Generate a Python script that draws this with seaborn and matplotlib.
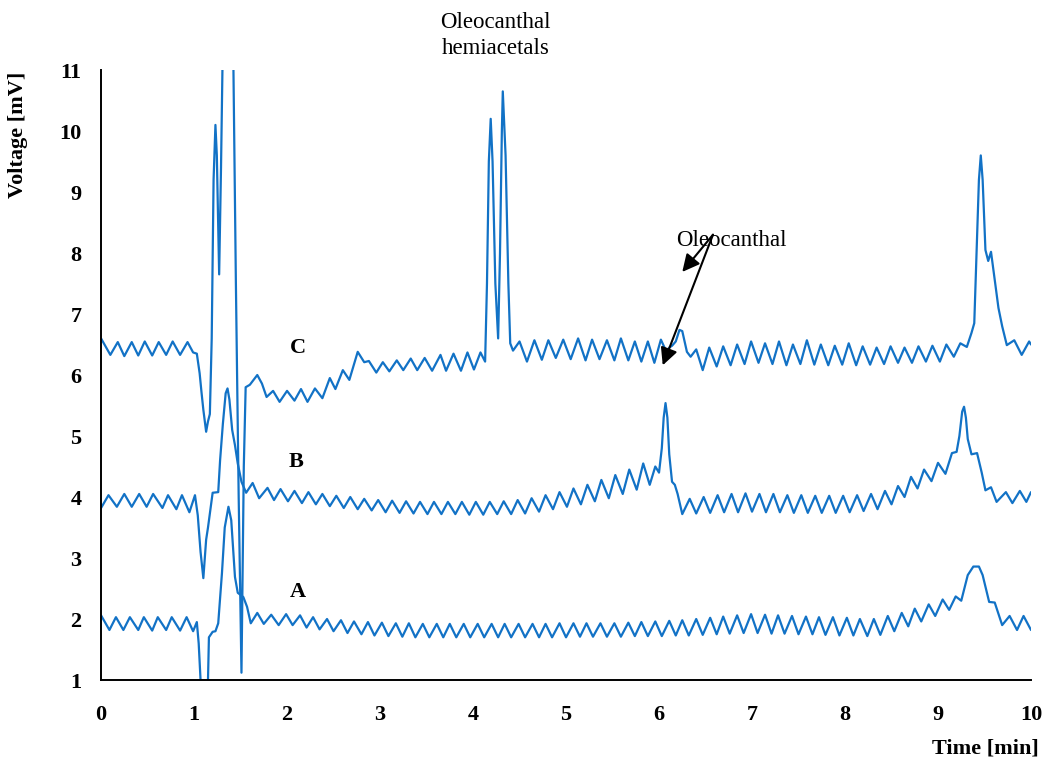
import matplotlib
matplotlib.use('Agg')
import matplotlib.pyplot as plt
import seaborn as sns
import pandas as pd

# chromatogram traces: (time [min], voltage [mV])
trace_a = [
    (0.00, 2.06), (0.09, 1.82), (0.16, 2.03), (0.24, 1.82), (0.31, 2.03), (0.40, 1.82),
    (0.46, 2.03), (0.55, 1.81), (0.61, 2.03), (0.70, 1.82), (0.76, 2.03), (0.85, 1.81),
    (0.92, 2.03), (0.99, 1.80), (1.03, 1.95), (1.05, 1.60), (1.07, 1.00), (1.10, 0.50),
    (1.13, 0.50), (1.15, 1.00), (1.16, 1.70), (1.20, 1.79), (1.23, 1.80), (1.26, 1.93),
    (1.30, 2.75), (1.33, 3.50), (1.37, 3.84), (1.40, 3.62), (1.44, 2.69), (1.47, 2.43),
    (1.53, 2.36), (1.57, 2.20), (1.61, 1.93), (1.68, 2.10), (1.75, 1.92), (1.83, 2.07),
    (1.91, 1.90), (1.99, 2.08), (2.06, 1.90), (2.14, 2.06), (2.21, 1.86), (2.28, 2.03),
    (2.35, 1.83), (2.43, 2.00), (2.50, 1.80), (2.58, 1.98), (2.65, 1.77), (2.72, 1.96),
    (2.80, 1.75), (2.87, 1.95), (2.94, 1.73), (3.02, 1.94), (3.09, 1.72), (3.17, 1.93),
    (3.24, 1.71), (3.31, 1.93), (3.38, 1.70), (3.46, 1.92), (3.53, 1.70), (3.61, 1.92),
    (3.68, 1.70), (3.75, 1.92), (3.82, 1.70), (3.90, 1.92), (3.97, 1.70), (4.05, 1.92),
    (4.12, 1.70), (4.20, 1.92), (4.27, 1.70), (4.34, 1.92), (4.41, 1.70), (4.49, 1.92),
    (4.56, 1.70), (4.64, 1.92), (4.71, 1.70), (4.78, 1.92), (4.85, 1.70), (4.93, 1.93),
    (5.00, 1.70), (5.08, 1.93), (5.15, 1.71), (5.22, 1.93), (5.29, 1.71), (5.37, 1.93),
    (5.44, 1.71), (5.52, 1.93), (5.59, 1.71), (5.67, 1.94), (5.74, 1.72), (5.81, 1.95),
    (5.88, 1.72), (5.96, 1.96), (6.03, 1.72), (6.11, 1.97), (6.18, 1.73), (6.25, 1.98),
    (6.32, 1.73), (6.40, 2.00), (6.47, 1.74), (6.55, 2.02), (6.62, 1.75), (6.69, 2.04),
    (6.76, 1.76), (6.84, 2.06), (6.91, 1.77), (6.99, 2.08), (7.06, 1.77), (7.14, 2.07),
    (7.21, 1.76), (7.28, 2.06), (7.35, 1.76), (7.43, 2.05), (7.50, 1.75), (7.58, 2.04),
    (7.65, 1.75), (7.72, 2.03), (7.79, 1.74), (7.87, 2.03), (7.94, 1.73), (8.02, 2.02),
    (8.09, 1.73), (8.16, 2.00), (8.24, 1.72), (8.31, 2.00), (8.38, 1.74), (8.46, 2.05),
    (8.53, 1.80), (8.61, 2.10), (8.68, 1.88), (8.75, 2.17), (8.82, 1.96), (8.90, 2.24),
    (8.97, 2.05), (9.05, 2.32), (9.12, 2.15), (9.19, 2.37), (9.25, 2.30), (9.32, 2.72),
    (9.38, 2.86), (9.44, 2.86), (9.48, 2.72), (9.55, 2.28), (9.61, 2.27), (9.69, 1.90),
    (9.77, 2.05), (9.85, 1.82), (9.92, 2.05), (10.00, 1.82),
]

trace_b = [
    (0.00, 3.82), (0.08, 4.03), (0.17, 3.84), (0.25, 4.05), (0.33, 3.84), (0.41, 4.05),
    (0.49, 3.84), (0.56, 4.05), (0.66, 3.82), (0.72, 4.03), (0.81, 3.80), (0.87, 4.03),
    (0.95, 3.75), (1.01, 4.03), (1.04, 3.70), (1.07, 3.10), (1.10, 2.67), (1.13, 3.30),
    (1.15, 3.50), (1.20, 4.07), (1.26, 4.08), (1.28, 4.60), (1.31, 5.20), (1.34, 5.70),
    (1.36, 5.78), (1.38, 5.60), (1.41, 5.10), (1.44, 4.85), (1.47, 4.55), (1.51, 4.25),
    (1.56, 4.07), (1.63, 4.23), (1.70, 3.98), (1.79, 4.15), (1.86, 3.95), (1.93, 4.13),
    (2.01, 3.93), (2.08, 4.10), (2.16, 3.90), (2.23, 4.08), (2.31, 3.88), (2.38, 4.05),
    (2.46, 3.85), (2.53, 4.02), (2.61, 3.82), (2.68, 4.00), (2.76, 3.80), (2.83, 3.97),
    (2.91, 3.78), (2.98, 3.95), (3.06, 3.75), (3.13, 3.94), (3.21, 3.74), (3.28, 3.93),
    (3.36, 3.73), (3.43, 3.92), (3.51, 3.72), (3.58, 3.92), (3.66, 3.72), (3.73, 3.92),
    (3.81, 3.72), (3.88, 3.92), (3.96, 3.71), (4.03, 3.92), (4.11, 3.71), (4.18, 3.92),
    (4.26, 3.72), (4.33, 3.93), (4.41, 3.72), (4.48, 3.95), (4.56, 3.73), (4.63, 3.98),
    (4.71, 3.76), (4.78, 4.03), (4.86, 3.80), (4.93, 4.08), (5.01, 3.84), (5.08, 4.14),
    (5.16, 3.88), (5.23, 4.20), (5.31, 3.93), (5.38, 4.28), (5.46, 3.98), (5.53, 4.36),
    (5.61, 4.05), (5.68, 4.45), (5.76, 4.12), (5.83, 4.55), (5.90, 4.20), (5.96, 4.50),
    (6.00, 4.40), (6.03, 4.80), (6.05, 5.30), (6.07, 5.54), (6.09, 5.30), (6.11, 4.70),
    (6.14, 4.25), (6.17, 4.20), (6.20, 4.05), (6.25, 3.72), (6.33, 3.97), (6.40, 3.73),
    (6.48, 4.00), (6.55, 3.74), (6.63, 4.03), (6.70, 3.75), (6.78, 4.05), (6.85, 3.75),
    (6.93, 4.06), (7.00, 3.76), (7.08, 4.05), (7.15, 3.75), (7.23, 4.05), (7.30, 3.75),
    (7.38, 4.03), (7.45, 3.74), (7.53, 4.03), (7.60, 3.74), (7.68, 4.02), (7.75, 3.74),
    (7.83, 4.02), (7.90, 3.74), (7.98, 4.02), (8.05, 3.75), (8.13, 4.03), (8.20, 3.77),
    (8.28, 4.05), (8.35, 3.80), (8.43, 4.10), (8.50, 3.88), (8.57, 4.18), (8.64, 4.00),
    (8.71, 4.33), (8.78, 4.14), (8.85, 4.45), (8.93, 4.26), (9.00, 4.56), (9.08, 4.38),
    (9.15, 4.72), (9.20, 4.74), (9.23, 5.00), (9.26, 5.40), (9.28, 5.48), (9.30, 5.30),
    (9.32, 4.95), (9.36, 4.70), (9.42, 4.72), (9.47, 4.40), (9.51, 4.11), (9.57, 4.16),
    (9.63, 3.92), (9.73, 4.08), (9.80, 3.90), (9.88, 4.10), (9.95, 3.92), (10.00, 4.08),
]

trace_c = [
    (0.00, 6.60), (0.10, 6.33), (0.18, 6.54), (0.25, 6.31), (0.33, 6.54), (0.40, 6.32),
    (0.47, 6.55), (0.55, 6.32), (0.62, 6.54), (0.70, 6.33), (0.77, 6.55), (0.85, 6.33),
    (0.93, 6.54), (0.99, 6.37), (1.03, 6.35), (1.06, 6.03), (1.08, 5.72), (1.10, 5.43),
    (1.13, 5.07), (1.15, 5.24), (1.17, 5.36), (1.19, 6.60), (1.21, 9.20), (1.23, 10.10),
    (1.245, 9.60), (1.27, 7.65), (1.29, 9.40), (1.31, 11.50), (1.36, 14.00), (1.42, 11.50),
    (1.45, 7.50), (1.48, 4.00), (1.51, 1.12), (1.535, 4.50), (1.555, 5.80), (1.60, 5.84),
    (1.68, 6.00), (1.73, 5.86), (1.78, 5.64), (1.85, 5.74), (1.92, 5.56), (2.00, 5.74),
    (2.08, 5.58), (2.15, 5.77), (2.22, 5.56), (2.30, 5.78), (2.38, 5.62), (2.46, 5.95),
    (2.52, 5.77), (2.60, 6.08), (2.67, 5.92), (2.76, 6.38), (2.83, 6.21), (2.88, 6.23),
    (2.96, 6.04), (3.03, 6.21), (3.10, 6.06), (3.18, 6.24), (3.25, 6.08), (3.33, 6.27),
    (3.40, 6.08), (3.48, 6.28), (3.56, 6.07), (3.65, 6.33), (3.71, 6.07), (3.79, 6.35),
    (3.87, 6.07), (3.94, 6.37), (4.01, 6.09), (4.08, 6.37), (4.13, 6.22), (4.15, 7.50),
    (4.17, 9.50), (4.19, 10.20), (4.21, 9.50), (4.24, 7.50), (4.27, 6.60), (4.29, 8.00),
    (4.31, 10.00), (4.32, 10.65), (4.35, 9.60), (4.38, 7.50), (4.40, 6.52), (4.43, 6.40),
    (4.50, 6.55), (4.58, 6.22), (4.66, 6.57), (4.74, 6.25), (4.81, 6.57), (4.89, 6.28),
    (4.97, 6.58), (5.05, 6.26), (5.13, 6.60), (5.21, 6.24), (5.28, 6.58), (5.36, 6.26),
    (5.44, 6.57), (5.52, 6.24), (5.59, 6.60), (5.67, 6.24), (5.74, 6.55), (5.81, 6.22),
    (5.88, 6.55), (5.95, 6.20), (6.02, 6.58), (6.08, 6.38), (6.11, 6.45), (6.14, 6.48),
    (6.18, 6.55), (6.22, 6.74), (6.25, 6.72), (6.30, 6.38), (6.34, 6.30), (6.40, 6.42),
    (6.47, 6.08), (6.54, 6.45), (6.62, 6.14), (6.69, 6.47), (6.77, 6.16), (6.84, 6.50),
    (6.92, 6.18), (6.99, 6.55), (7.07, 6.20), (7.14, 6.52), (7.22, 6.18), (7.29, 6.55),
    (7.37, 6.16), (7.44, 6.50), (7.52, 6.18), (7.59, 6.57), (7.67, 6.17), (7.74, 6.50),
    (7.82, 6.16), (7.89, 6.48), (7.97, 6.17), (8.04, 6.52), (8.12, 6.16), (8.19, 6.47),
    (8.27, 6.17), (8.34, 6.45), (8.42, 6.18), (8.49, 6.47), (8.57, 6.20), (8.64, 6.45),
    (8.72, 6.20), (8.79, 6.47), (8.87, 6.22), (8.94, 6.48), (9.02, 6.22), (9.09, 6.50),
    (9.17, 6.30), (9.24, 6.52), (9.31, 6.46), (9.36, 6.69), (9.39, 6.85), (9.41, 7.77),
    (9.44, 9.20), (9.46, 9.60), (9.48, 9.20), (9.51, 8.05), (9.54, 7.87), (9.57, 8.02),
    (9.61, 7.56), (9.65, 7.10), (9.69, 6.80), (9.74, 6.49), (9.82, 6.57), (9.90, 6.33),
    (9.98, 6.55), (10.00, 6.50),
]

trace_names = ['A', 'B', 'C']
label_pos = [(2.12, 2.44), (2.10, 4.57), (2.12, 6.44)]
x_ticks = list(range(0, 11))
y_ticks = list(range(1, 12))

LINE = '#1272C6'
FONT = ['Liberation Serif', 'DejaVu Serif']

frames = []
for name, pts in zip(trace_names, [trace_a, trace_b, trace_c]):
    df = pd.DataFrame(pts, columns=['time', 'voltage'])
    df['trace'] = name
    frames.append(df)
data = pd.concat(frames, ignore_index=True)

sns.set_style('white')
plt.rcParams['font.family'] = FONT
plt.rcParams['text.color'] = 'black'
plt.rcParams['xtick.color'] = 'black'
plt.rcParams['ytick.color'] = 'black'

fig = plt.figure(figsize=(10.45, 7.62), dpi=100)
ax = fig.add_axes([0.0967, 0.1076, 0.8899, 0.8005])

sns.lineplot(data=data, x='time', y='voltage', units='trace', estimator=None,
             sort=False, color=LINE, lw=1.6, ax=ax)
for ln in ax.lines:
    ln.set_solid_joinstyle('round')

ax.set_xlim(0, 10)
ax.set_ylim(1, 11)
ax.set_xticks(x_ticks)
ax.set_yticks(y_ticks)
ax.set_xlabel('')
ax.set_ylabel('')
sns.despine(ax=ax)
for side in ['left', 'bottom']:
    ax.spines[side].set_color('black')
    ax.spines[side].set_linewidth(1.4)
ax.tick_params(axis='both', direction='out', length=6, width=1.3, color='black',
               labelcolor='black', labelsize=16)
ax.tick_params(axis='x', pad=12)
ax.tick_params(axis='y', pad=8)
for lbl in ax.get_xticklabels() + ax.get_yticklabels():
    lbl.set_fontweight('bold')

for name, (tx, ty) in zip(trace_names, label_pos):
    ax.text(tx, ty, name, ha='center', va='center', fontsize=16, fontweight='bold')

ax.text(4.24, 11.57, 'Oleocanthal\nhemiacetals', ha='center', va='center',
        fontsize=16.5, linespacing=1.3, clip_on=False)
ax.text(6.78, 8.20, 'Oleocanthal', ha='center', va='center', fontsize=16.5)
for head in [(6.25, 7.69), (6.04, 6.16)]:
    ax.annotate('', xy=head, xytext=(6.58, 8.30),
                arrowprops=dict(arrowstyle='-|>', color='black', lw=1.5,
                                mutation_scale=26, shrinkA=0, shrinkB=0))

fig.text(18 / 1045, 1 - 135 / 762, 'Voltage [mV]', rotation=90, ha='center',
         va='center', fontsize=16, fontweight='bold')
fig.text(985 / 1045, 1 - 748 / 762, 'Time [min]', ha='center', va='center',
         fontsize=16, fontweight='bold')

fig.savefig('out.png', dpi=100)
